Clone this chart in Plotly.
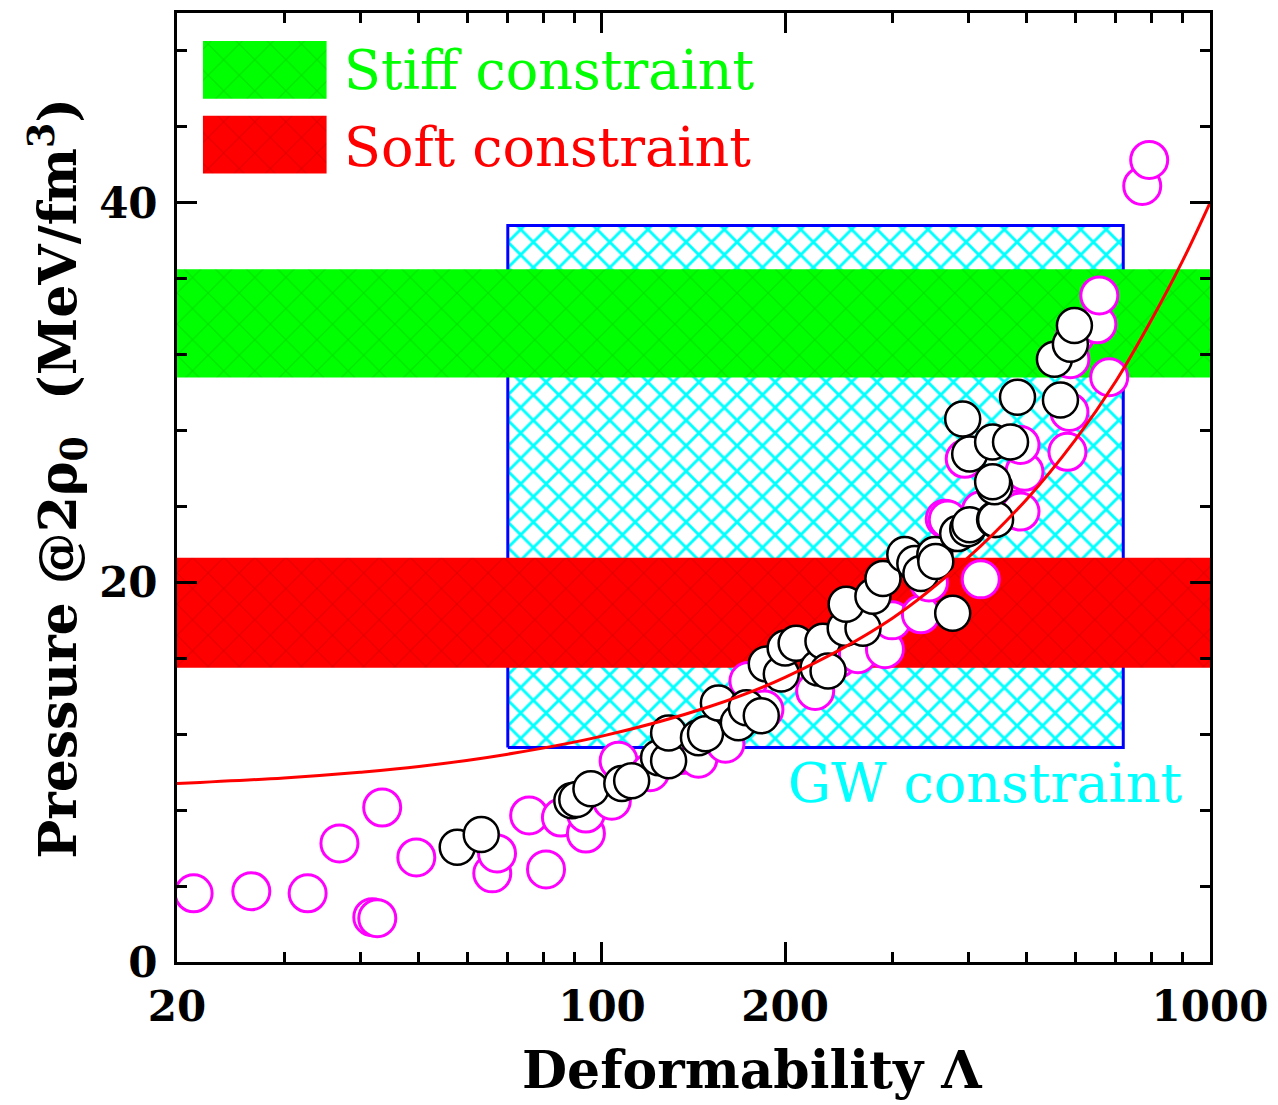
import numpy as np
import plotly.graph_objects as go

# Axis limits
LAMBDA_MIN, LAMBDA_MAX = 20, 1000
P_MIN, P_MAX = 0, 50

# Constraint bands (pressure ranges, MeV/fm^3)
stiff_band = [30.8, 36.5]
soft_band = [15.5, 21.3]

# GW170817 constraint box
gw_lambda = [70, 720]
gw_pressure = [11.3, 38.8]

# Model predictions: magenta set
mag_lambda = [21.3, 26.5, 32.8, 37.0, 43.5, 41.9, 42.7, 49.5, 66.0, 67.2,
              75.9, 80.9, 85.6, 94.1, 94.1, 103.8, 106.5, 120.0, 135.0, 144.1,
              159.6, 174.1, 185.0, 224.2, 245.0, 263.6, 292.0, 300.0, 334.6, 345.0,
              419.7, 366.2, 370.4, 395.0, 420.0, 476.9, 487.9, 495.3, 487.9, 582.8,
              587.2, 589.4, 600.0, 652.7, 657.6, 682.7, 773.6, 794.3]
mag_p = [3.62, 3.73, 3.62, 6.25, 8.14, 2.36, 2.31, 5.51, 4.67, 5.72,
         7.72, 4.88, 7.61, 6.77, 7.82, 8.50, 10.60, 10.0, 10.9, 10.71,
         11.50, 14.80, 13.3, 14.28, 16.0, 16.22, 16.48, 18.0, 18.32, 20.0,
         20.16, 23.36, 23.31, 26.51, 23.8, 23.83, 23.73, 25.83, 27.24, 26.88,
         28.98, 31.76, 33.0, 33.60, 35.12, 30.81, 40.89, 42.26]

# Model predictions: black set
blk_lambda = [57.8, 63.3, 89.2, 90.9, 95.9, 107.8, 111.9, 123.9, 128.7, 128.7,
              144.1, 148.0, 155.4, 167.6, 172.8, 182.8, 186.3, 197.2, 200.1, 208.6,
              226.7, 230.9, 235.4, 251.2, 268.7, 252.1, 279.0, 289.8, 314.8, 327.0,
              334.6, 352.7, 354.0, 377.4, 384.6, 399.5, 402.5, 442.3, 444.0, 442.3,
              439.0, 392.0, 402.5, 439.0, 469.8, 482.4, 567.6, 554.8, 589.4, 598.4]
blk_p = [6.04, 6.72, 8.50, 8.56, 9.13, 9.40, 9.55, 10.76, 10.60, 12.07,
         11.81, 12.02, 13.65, 12.60, 13.39, 12.97, 15.70, 15.17, 16.54, 16.80,
         15.49, 16.90, 15.33, 17.59, 17.59, 18.85, 19.27, 20.21, 21.47, 21.00,
         20.47, 21.47, 21.10, 18.37, 22.57, 22.83, 23.04, 23.31, 23.31, 25.04,
         25.30, 28.61, 26.77, 27.40, 27.40, 29.76, 29.61, 31.76, 32.55, 33.54]

# Fitted relation
fit_lambda = [20, 30, 40, 50, 70, 100, 150, 200, 300, 400, 500, 600, 700, 800, 900, 1000]
fit_p = [9.4, 9.7, 10.0, 10.3, 10.95, 11.9, 13.45, 15.0, 18.1, 21.3, 24.4, 27.5, 30.6, 33.8, 36.9, 40.0]

# Ticks
x_major = [20, 100, 200, 1000]
x_minor = [30, 40, 50, 60, 70, 80, 90, 300, 400, 500, 600, 700, 800, 900]
y_major = [0, 20, 40]
y_minor = [4, 8, 12, 16, 24, 28, 32, 36, 44, 48]

SERIF = "DejaVu Serif"
GREEN, RED, CYAN, BLUE, MAGENTA = "#00ff00", "#ff0000", "#00ffff", "#0000ff", "#ff00ff"


def rect(x0, x1, y0, y1):
    return [x0, x1, x1, x0, x0], [y0, y0, y1, y1, y0]


def paper_x(f):
    lo, hi = np.log10(LAMBDA_MIN), np.log10(LAMBDA_MAX)
    return 10 ** (lo + f * (hi - lo))


def paper_y(f):
    return P_MIN + f * (P_MAX - P_MIN)


fig = go.Figure()

# GW box: cyan cross-hatch with blue frame
gx, gy = rect(gw_lambda[0], gw_lambda[1], gw_pressure[0], gw_pressure[1])
fig.add_trace(go.Scatter(
    x=gx, y=gy, mode="lines", fill="toself",
    line=dict(color=BLUE, width=3),
    fillcolor="white",
    fillpattern=dict(shape="x", fgcolor=CYAN, bgcolor="white", size=18,
                     solidity=0.3, fillmode="replace"),
    hoverinfo="skip", showlegend=False))


def band(x0, x1, y0, y1, color, dark):
    bx, by = rect(x0, x1, y0, y1)
    fig.add_trace(go.Scatter(
        x=bx, y=by, mode="lines", fill="toself",
        line=dict(width=0, color=color),
        fillcolor=color,
        fillpattern=dict(shape="x", fgcolor=dark, bgcolor=color, size=22,
                         solidity=0.1, fillmode="replace"),
        hoverinfo="skip", showlegend=False))


# Stiff / soft constraint bands across the full range
band(LAMBDA_MIN, LAMBDA_MAX, stiff_band[0], stiff_band[1], GREEN, "#00e400")
band(LAMBDA_MIN, LAMBDA_MAX, soft_band[0], soft_band[1], RED, "#e40000")

# Key patches
band(paper_x(0.0251), paper_x(0.1448), paper_y(0.9097), paper_y(0.9706), GREEN, "#00e400")
band(paper_x(0.0251), paper_x(0.1448), paper_y(0.8309), paper_y(0.8918), RED, "#e40000")

# Model points
fig.add_trace(go.Scatter(
    x=mag_lambda, y=mag_p, mode="markers",
    marker=dict(symbol="circle", size=37, color="white",
                line=dict(color=MAGENTA, width=3)),
    showlegend=False))
fig.add_trace(go.Scatter(
    x=blk_lambda, y=blk_p, mode="markers",
    marker=dict(symbol="circle", size=35, color="white",
                line=dict(color="black", width=2.5)),
    showlegend=False))

# Fit curve
fig.add_trace(go.Scatter(
    x=fit_lambda, y=fit_p, mode="lines", line=dict(color=RED, width=3, shape="spline"),
    showlegend=False))

axis_common = dict(
    showline=True, linewidth=3, linecolor="black", mirror="allticks",
    ticks="inside", ticklen=20, tickwidth=3, tickcolor="black",
    showgrid=False, zeroline=False,
    tickfont=dict(family=SERIF, size=42, color="black", weight="bold"),
)

fig.update_xaxes(
    type="log", range=[np.log10(LAMBDA_MIN), np.log10(LAMBDA_MAX)],
    tickmode="array", tickvals=x_major, ticktext=[str(v) for v in x_major],
    minor=dict(tickvals=x_minor, ticks="inside", ticklen=10, tickwidth=3, tickcolor="black"),
    ticklabelstandoff=6,
    **axis_common)
fig.update_yaxes(
    range=[P_MIN, P_MAX],
    tickmode="array", tickvals=y_major, ticktext=[str(v) for v in y_major],
    minor=dict(tickvals=y_minor, ticks="inside", ticklen=10, tickwidth=3, tickcolor="black"),
    ticklabelstandoff=8,
    **axis_common)

text_font = dict(family=SERIF, size=54)
fig.add_annotation(x=0.1602, y=0.939, xref="paper", yref="paper", xanchor="left", yanchor="middle",
                   text="Stiff constraint", showarrow=False, font=dict(color=GREEN, **text_font))
fig.add_annotation(x=0.1602, y=0.8582, xref="paper", yref="paper", xanchor="left", yanchor="middle",
                   text="Soft constraint", showarrow=False, font=dict(color=RED, **text_font))
fig.add_annotation(x=0.9759, y=0.188, xref="paper", yref="paper", xanchor="right", yanchor="middle",
                   text="GW constraint", showarrow=False, font=dict(color=CYAN, **text_font))

title_font = dict(family=SERIF, size=52, color="black", weight="bold")
fig.add_annotation(x=0.557, y=-0.1134, xref="paper", yref="paper", xanchor="center", yanchor="middle",
                   text="Deformability Λ", showarrow=False, font=title_font)
fig.add_annotation(x=-0.1149, y=0.5095, xref="paper", yref="paper", xanchor="center", yanchor="middle",
                   text="Pressure @2ρ<sub>0</sub>  (MeV/fm<sup>3</sup>)", textangle=-90,
                   showarrow=False, font=title_font)

fig.update_layout(
    width=1278, height=1105,
    margin=dict(l=177, r=65, t=10, b=143),
    paper_bgcolor="white", plot_bgcolor="white",
    showlegend=False,
)

fig.write_html("out.html")
